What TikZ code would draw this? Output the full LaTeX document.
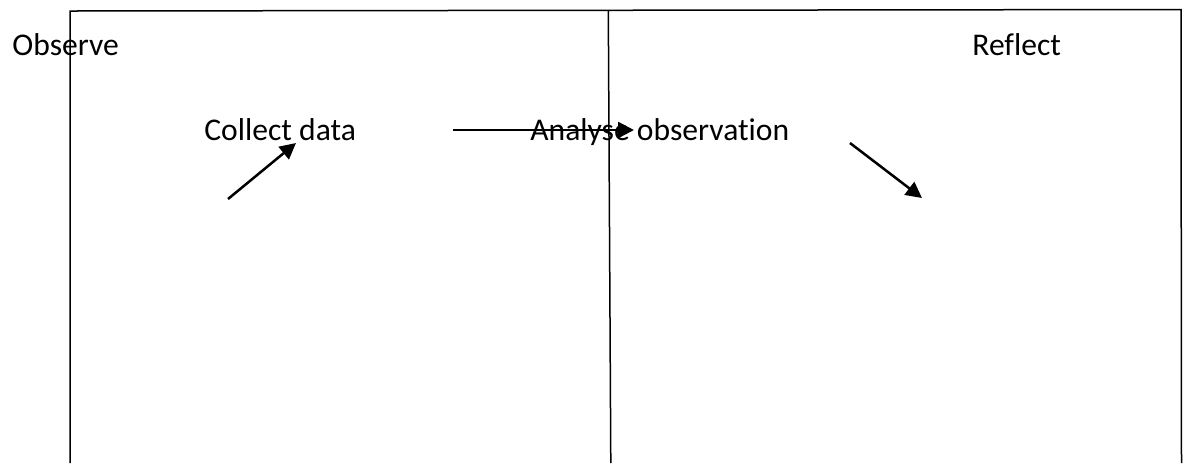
\documentclass[tikz,border=0pt]{standalone}
\usepackage{fontspec}
\setmainfont{Carlito}[Ligatures={NoCommon}]
\usetikzlibrary{arrows.meta}
\begin{document}
\begin{tikzpicture}[x=0.5pt,y=-0.5pt,
  frame/.style={line width=0.75pt, black},
  lbl/.style={inner sep=0pt, anchor=base west, font=\fontsize{15.8}{18}\selectfont},
  arr/.style={line width=1.25pt, -{Triangle[length=8pt,width=8pt]}}]
\useasboundingbox (0,0) rectangle (1190,463);
% frame
\draw[frame] (70,463) -- (70,11) -- (1181,9.5) -- (1181.5,463);
\draw[frame] (608.3,10.5) -- (610.8,463);
% labels
\node[lbl] (observe) at (12,55) {Observe};
\node[lbl] (reflect) at (972,55) {Reflect};
\node[lbl] (collect) at (204,140) {Collect data};
\node[lbl] (analyse) at (530,140) {Analyse observation};
% arrow end points
\coordinate (a1s) at (228,199);
\coordinate (a1e) at (296,143);
\coordinate (a2s) at (453,130);
\coordinate (a2e) at (634,130);
\coordinate (a3s) at (850,143);
\coordinate (a3e) at (922,198);
\draw[arr] (a1s) -- (a1e);
\draw[arr] (a2s) -- (a2e);
\draw[arr] (a3s) -- (a3e);
\end{tikzpicture}
\end{document}
